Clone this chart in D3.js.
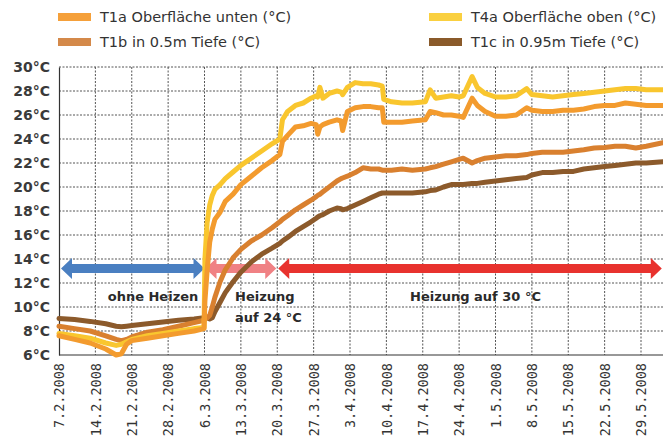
<!DOCTYPE html>
<html><head><meta charset="utf-8">
<script src="https://cdn.jsdelivr.net/npm/d3@7"></script>
<style>html,body{margin:0;padding:0;background:#fff;overflow:hidden}</style>
</head><body><svg id="c" width="663" height="443"></svg>
<script>
const dates = ["2008-02-07 00:00","2008-02-10 00:00","2008-02-13 00:00","2008-02-16 00:00","2008-02-18 00:00","2008-02-19 00:00","2008-02-20 00:00","2008-02-21 00:00","2008-02-24 00:00","2008-02-27 00:00","2008-03-01 00:00","2008-03-04 00:00","2008-03-05 22:00","2008-03-06 02:00","2008-03-06 12:00","2008-03-07 00:00","2008-03-07 12:00","2008-03-08 00:00","2008-03-09 00:00","2008-03-10 00:00","2008-03-11 12:00","2008-03-13 00:00","2008-03-15 00:00","2008-03-17 00:00","2008-03-19 00:00","2008-03-20 12:00","2008-03-21 00:00","2008-03-22 00:00","2008-03-23 12:00","2008-03-25 00:00","2008-03-26 12:00","2008-03-27 12:00","2008-03-27 19:00","2008-03-28 05:00","2008-03-28 19:00","2008-03-30 00:00","2008-03-31 12:00","2008-04-01 07:00","2008-04-01 14:00","2008-04-02 12:00","2008-04-04 00:00","2008-04-05 12:00","2008-04-07 00:00","2008-04-08 12:00","2008-04-09 05:00","2008-04-09 12:00","2008-04-11 00:00","2008-04-13 00:00","2008-04-15 00:00","2008-04-17 12:00","2008-04-18 10:00","2008-04-19 12:00","2008-04-21 00:00","2008-04-22 12:00","2008-04-24 00:00","2008-04-24 19:00","2008-04-26 12:00","2008-04-27 12:00","2008-04-29 00:00","2008-05-01 00:00","2008-05-03 00:00","2008-05-05 00:00","2008-05-07 00:00","2008-05-08 00:00","2008-05-10 00:00","2008-05-12 00:00","2008-05-14 00:00","2008-05-16 00:00","2008-05-18 00:00","2008-05-20 00:00","2008-05-22 00:00","2008-05-24 00:00","2008-05-26 00:00","2008-05-28 00:00","2008-05-30 00:00","2008-06-02 05:00"];

const t1a = [7.6,7.3,7.0,6.5,6.0,6.1,6.9,7.2,7.4,7.6,7.8,8.0,8.2,10.5,13.0,15.4,16.5,17.3,17.9,18.8,19.4,20.2,20.9,21.6,22.2,22.7,23.8,24.3,25.0,25.1,25.3,25.2,24.4,25.0,25.2,25.4,25.6,25.5,24.7,26.3,26.6,26.7,26.7,26.6,26.6,25.4,25.4,25.4,25.5,25.6,26.3,26.2,26.0,26.0,25.9,25.8,27.4,26.8,26.3,25.9,25.9,26.0,26.6,26.4,26.3,26.3,26.4,26.4,26.5,26.7,26.8,26.8,27.0,26.9,26.8,26.8];
const t4a = [7.8,7.6,7.4,7.0,6.8,6.9,7.1,7.3,7.6,7.8,8.0,8.2,8.3,14.0,17.0,18.5,19.3,19.8,20.2,20.7,21.25,21.8,22.4,23.0,23.6,24.0,25.6,26.3,26.8,27.0,27.4,27.6,27.5,28.3,27.4,27.8,28.0,27.9,27.7,28.3,28.7,28.6,28.6,28.5,28.4,27.3,27.1,27.0,27.0,27.1,28.1,27.4,27.5,27.6,27.5,27.6,29.2,28.3,27.8,27.5,27.5,27.6,28.2,27.7,27.6,27.5,27.6,27.7,27.8,27.9,28.0,28.1,28.2,28.2,28.1,28.1];
const t1b = [8.4,8.2,8.0,7.6,7.3,7.2,7.3,7.5,7.9,8.1,8.4,8.7,8.9,9.0,9.1,9.3,10.0,10.8,12.1,13.1,14.1,14.8,15.5,16.0,16.6,17.1,17.3,17.6,18.1,18.5,18.9,19.2,19.3,19.4,19.6,20.0,20.5,20.7,20.75,20.9,21.2,21.6,21.5,21.5,21.4,21.4,21.4,21.5,21.4,21.5,21.6,21.7,21.9,22.1,22.3,22.4,22.0,22.2,22.4,22.5,22.6,22.6,22.7,22.8,22.9,22.9,22.9,23.0,23.1,23.25,23.3,23.4,23.4,23.25,23.4,23.7];
const t1c = [9.05,8.95,8.8,8.6,8.4,8.35,8.4,8.45,8.6,8.75,8.9,9.0,9.1,9.1,9.1,9.0,9.1,9.6,10.4,11.2,12.1,12.9,13.75,14.4,14.9,15.3,15.5,15.8,16.3,16.7,17.1,17.4,17.5,17.6,17.7,18.0,18.25,18.2,18.1,18.2,18.5,18.8,19.1,19.4,19.5,19.5,19.5,19.5,19.5,19.6,19.7,19.75,20.0,20.2,20.2,20.2,20.3,20.3,20.4,20.5,20.6,20.7,20.8,21.0,21.2,21.2,21.3,21.3,21.5,21.6,21.7,21.8,21.9,22.0,22.0,22.1];

const seriesNames = ["T1a Oberfläche unten (°C)","T1b in 0.5m Tiefe (°C)","T4a Oberfläche oben (°C)","T1c in 0.95m Tiefe (°C)"];
const tickDates = ["2008-02-07","2008-02-14","2008-02-21","2008-02-28","2008-03-06","2008-03-13","2008-03-20","2008-03-27","2008-04-03","2008-04-10","2008-04-17","2008-04-24","2008-05-01","2008-05-08","2008-05-15","2008-05-22","2008-05-29"];
const tickLabels = ["7.2.2008","14.2.2008","21.2.2008","28.2.2008","6.3.2008","13.3.2008","20.3.2008","27.3.2008","3.4.2008","10.4.2008","17.4.2008","24.4.2008","1.5.2008","8.5.2008","15.5.2008","22.5.2008","29.5.2008"];
const yTicks = [6,8,10,12,14,16,18,20,22,24,26,28,30];
const yLabels = ["6°C","8°C","10°C","12°C","14°C","16°C","18°C","20°C","22°C","24°C","26°C","28°C","30°C"];
const phaseStart = ["2008-02-07","2008-03-06","2008-03-20"];
const phaseEnd = ["2008-03-06","2008-03-20","2008-06-02"];
const phaseLabels = [["ohne Heizen"],["Heizung","auf 24 °C"],["Heizung auf 30 °C"]];

const svg = d3.select("#c");
const pt = d3.timeParse("%Y-%m-%d %H:%M");
const pd = d3.timeParse("%Y-%m-%d");
const D = dates.map(pt);

const x = d3.scaleTime().domain([pd("2008-02-07"), pd("2008-05-29")]).range([59, 641]);
const y = d3.scaleLinear().domain([6, 30]).range([355, 67]);
const W = 663;

// grid
const g = svg.append("g");
g.selectAll("line.h").data(yTicks.filter(v => v > 6)).enter().append("line")
  .attr("x1", 59).attr("x2", W).attr("y1", d => y(d)).attr("y2", d => y(d))
  .attr("stroke", "#555").attr("stroke-width", 1).attr("stroke-dasharray", "2,1.5");
g.selectAll("line.v").data(tickDates.slice(1).map(pd)).enter().append("line")
  .attr("x1", d => x(d)).attr("x2", d => x(d)).attr("y1", y(30)).attr("y2", y(6))
  .attr("stroke", "#555").attr("stroke-width", 1).attr("stroke-dasharray", "2,1.5");

// axes
const xAxis = d3.axisBottom(x).tickValues(tickDates.map(pd)).tickSize(0)
  .tickFormat((d, i) => tickLabels[i]);
const xa = svg.append("g").attr("transform", "translate(0,355)").call(xAxis);
xa.select(".domain").attr("stroke", "#333").attr("stroke-width", 1.2).attr("d", "M59,0H" + W);
xa.selectAll("text").attr("transform", "rotate(-90)").attr("text-anchor", "end")
  .attr("x", -8).attr("y", 0).attr("dy", "0.35em")
  .style("font-family", "'DejaVu Sans Mono', monospace").style("font-size", "13.5px").attr("fill", "#333");

const yAxis = d3.axisLeft(y).tickValues(yTicks).tickSize(0).tickFormat((d, i) => yLabels[i]);
const ya = svg.append("g").attr("transform", "translate(59,0)").call(yAxis);
ya.select(".domain").attr("stroke", "#333").attr("stroke-width", 1.2);
ya.selectAll("text").attr("x", -9)
  .style("font-family", "'DejaVu Sans', sans-serif").style("font-size", "14px").style("font-weight", "bold").attr("fill", "#3a3a3a");

// arrows
const arrowColors = ["#4a7fc1", "#f08184", "#e8322e"];
const ay = y(13.2);
function arrow(x1, x2, col) {
  const hl = 11, hh = 10.5, sh = 4.5;
  const p = `M${x1},${ay} L${x1+hl},${ay-hh} L${x1+hl},${ay-sh} L${x2-hl},${ay-sh} L${x2-hl},${ay-hh} L${x2},${ay} L${x2-hl},${ay+hh} L${x2-hl},${ay+sh} L${x1+hl},${ay+sh} L${x1+hl},${ay+hh} Z`;
  svg.append("path").attr("d", p).attr("fill", col);
}
arrow(x(pd(phaseStart[0])) + 2, x(pd(phaseEnd[0])), arrowColors[0]);
arrow(x(pd(phaseStart[1])) + 1, x(pd(phaseEnd[1])) - 1, arrowColors[1]);
arrow(x(pd(phaseStart[2])) + 1, Math.min(x(pd(phaseEnd[2])), W - 1), arrowColors[2]);

const lab = svg.append("g").style("font-family", "'DejaVu Sans', sans-serif").style("font-size", "13px").style("font-weight", "bold").attr("fill", "#2a2a2a");
lab.append("text").attr("x", 153).attr("y", 301).attr("text-anchor", "middle").text(phaseLabels[0][0]);
lab.append("text").attr("x", 235).attr("y", 301).text(phaseLabels[1][0]);
lab.append("text").attr("x", 235).attr("y", 322).text(phaseLabels[1][1]);
lab.append("text").attr("x", 410).attr("y", 301).text(phaseLabels[2][0]);

// lines
const lineColors = {t1a: "#f39b2e", t4a: "#f9c62e", t1b: "#d9802f", t1c: "#8c5a2b"};
const line = d3.line().x((d, i) => x(D[i])).y(d => y(d));
[["t1c", t1c], ["t1b", t1b], ["t4a", t4a], ["t1a", t1a]].forEach(([k, v]) => {
  svg.append("path").datum(v).attr("d", line).attr("fill", "none")
    .attr("stroke", lineColors[k]).attr("stroke-width", 5).attr("stroke-linejoin", "round").attr("stroke-linecap", "round");
});

// legend
const legend = [
  {name: seriesNames[0], c: "#f5a03a", x: 58, y: 17},
  {name: seriesNames[1], c: "#d4894a", x: 58, y: 42},
  {name: seriesNames[2], c: "#fad040", x: 429, y: 17},
  {name: seriesNames[3], c: "#8a5a2a", x: 429, y: 42}
];
const lg = svg.append("g");
legend.forEach(l => {
  lg.append("rect").attr("x", l.x).attr("y", l.y - 4).attr("width", 33).attr("height", 8).attr("fill", l.c);
  lg.append("text").attr("x", l.x + 42).attr("y", l.y).attr("dy", "0.35em").text(l.name)
    .style("font-family", "'DejaVu Sans', sans-serif").style("font-size", "14.5px").attr("fill", "#333");
});
</script></body></html>
